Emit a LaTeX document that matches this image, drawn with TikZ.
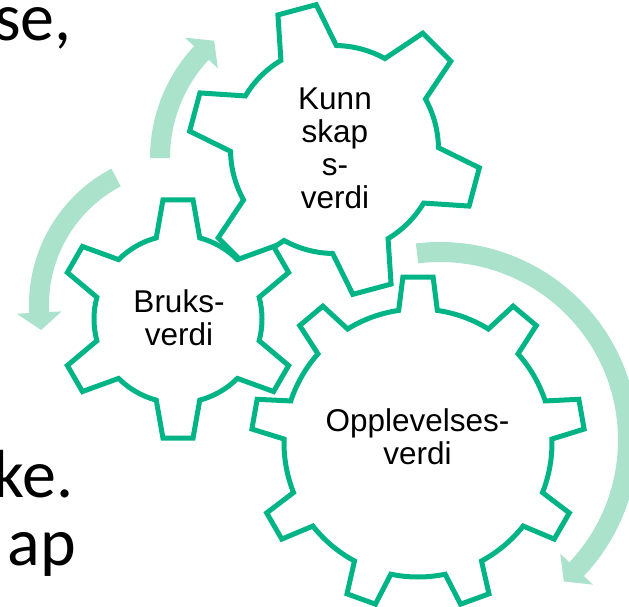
\documentclass[tikz,border=0pt]{standalone}
\usepackage{fontspec}
\setmainfont{Liberation Sans}
\newfontfamily\slidefont{Carlito}

\definecolor{gearline}{RGB}{0,180,134}
\definecolor{cyclefill}{RGB}{170,226,203}

\tikzset{
  gearshape/.style={draw=gearline, line width=5pt, fill=white, line join=miter},
  cyclearrow/.style={fill=cyclefill},
  gearlabel/.style={font=\fontsize{31.5}{33}\selectfont, align=center, inner sep=0pt, text=black},
  slidetext/.style={font=\slidefont\fontsize{68}{74}\selectfont, inner sep=0pt, anchor=base east, text=black},
}

% Gear outline.
% #1 centre x, #2 centre y (measured downwards), #3 tip radius, #4 root radius,
% #5 number of teeth, #6 angle of first tooth, #7 half-angle at root, #8 half-angle at tip
\newcommand\gearoutline[8]{%
  \begin{scope}[shift={(#1,-#2)}]
    \path[gearshape] ({#6-#7}:#4)
      \foreach \k in {1,...,#5}{
        -- ({#6+(\k-1)*360/#5-#8}:#3)
        -- ({#6+(\k-1)*360/#5+#8}:#3)
        -- ({#6+(\k-1)*360/#5+#7}:#4)
        arc[start angle={#6+(\k-1)*360/#5+#7}, end angle={#6+\k*360/#5-#7}, radius=#4]
      } -- cycle;
  \end{scope}}

% Curved cycle arrow: band of width 20 with a flat triangular head.
% #1 centre x, #2 centre y (downwards), #3 mid radius,
% #4 start angle, #5 angle of head base, #6 angle of tip
\newcommand\cyclearc[6]{%
  \begin{scope}[shift={(#1,-#2)}]
    \fill[cyclearrow] ({#4}:{#3+10})
      arc[start angle=#4, end angle=#5, radius={#3+10}]
      -- ({#5}:{#3+22.5}) -- ({#6}:{#3}) -- ({#5}:{#3-22.5})
      -- ({#5}:{#3-10})
      arc[start angle=#5, end angle=#4, radius={#3-10}] -- cycle;
  \end{scope}}

\begin{document}
\begin{tikzpicture}[x=1pt, y=1pt]
  \useasboundingbox (0,0) rectangle (629,-606);
  \clip (0,0) rectangle (629,-606);

  % remains of the slide text on the left
  \node[slidetext] (lineA) at (72,-40) {se,};
  \node[slidetext] (lineB) at (73.5,-497) {ke.};
  \node[slidetext] (lineC) at (76,-565) {ap};

  % cycle arrows
  \cyclearc{314}{158}{154}{180}{137}{130.4}
  \cyclearc{183}{305}{144}{117.7}{183}{190}
  \cyclearc{440}{440}{188}{97}{-43.4}{-48.8}

  % gears, back to front
  \gearoutline{418}{443}{166.7}{134}{9}{90}{8.3}{5.2}
  \gearoutline{334.5}{149.5}{146}{104}{6}{45}{16}{7.8}
  \gearoutline{178}{319}{120}{84}{6}{90}{15}{7.2}

  % gear labels
  \node[gearlabel] (kunnskap) at (335,-148.5) {Kunn\\skap\\s-\\verdi};
  \node[gearlabel] (bruks) at (179,-317.5) {Bruks-\\verdi};
  \node[gearlabel] (opplevelse) at (417.5,-437) {Opplevelses-\\verdi};
\end{tikzpicture}
\end{document}
